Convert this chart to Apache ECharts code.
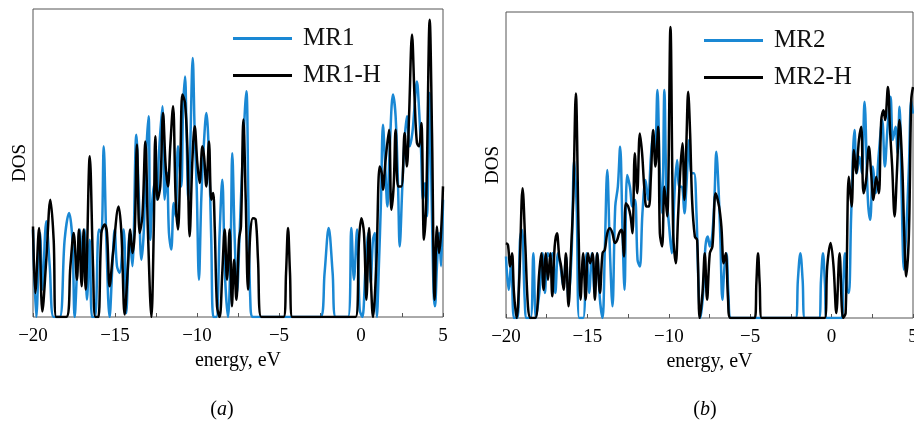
<!DOCTYPE html>
<html><head><meta charset="utf-8">
<script src="https://cdn.jsdelivr.net/npm/echarts@6/dist/echarts.min.js"></script>
<style>html,body{margin:0;padding:0;background:#fff}#c{width:914px;height:427px}</style>
</head><body><div id="c"></div>
<script>
// energy range / ticks (eV)
const energyMin = -20, energyMax = 5, energyStep = 5;
const dosMax = 10;
const seriesNamesA = ['MR1', 'MR1-H'];
const seriesNamesB = ['MR2', 'MR2-H'];
const panelLabels = ['a', 'b'];

// [energy (eV), DOS (arb.)]
const MR1 = [[-20.00,2.84],[-19.80,0],[-19.57,2.73],[-19.43,0.89],[-19.19,3.11],[-18.98,1.65],[-18.74,0],[-18.37,0],[-18.07,2.51],[-17.80,3.38],[-17.60,2.51],[-17.46,0],[-17.30,1.65],[-17.15,2.84],[-16.99,1.43],[-16.85,2.84],[-16.71,0.56],[-16.54,2.51],[-16.40,0],[-16.22,0],[-15.98,2.84],[-15.83,2.73],[-15.69,5.54],[-15.53,2.51],[-15.33,0],[-15.16,1.65],[-15.02,2.84],[-14.88,1.65],[-14.72,1.43],[-14.47,2.84],[-14.31,0.13],[-14.11,2.73],[-13.94,1.65],[-13.70,5.92],[-13.54,3.81],[-13.39,1.86],[-13.25,2.73],[-13.09,5.38],[-12.95,6.52],[-12.85,2.51],[-12.72,3.81],[-12.58,4.35],[-12.44,3.81],[-12.32,5.32],[-12.11,6.84],[-11.97,3.81],[-11.83,4.68],[-11.71,2.73],[-11.57,2.19],[-11.42,3.70],[-11.30,3.27],[-11.16,5.54],[-10.96,4.24],[-10.85,6.73],[-10.73,7.81],[-10.63,5.76],[-10.53,3.81],[-10.43,5.11],[-10.26,8.41],[-10.14,5.97],[-10.02,4.24],[-9.88,1.21],[-9.74,3.81],[-9.59,5.54],[-9.43,6.62],[-9.27,5.22],[-9.13,2.51],[-9.00,0],[-8.82,0],[-8.62,2.73],[-8.46,4.46],[-8.29,1.32],[-8.11,0],[-7.95,2.19],[-7.85,5.32],[-7.70,2.51],[-7.56,0.78],[-7.40,2.73],[-7.24,4.89],[-6.99,7.33],[-6.87,3.81],[-6.75,0.56],[-6.59,0],[-2.48,0],[-2.22,1.43],[-1.97,2.89],[-1.73,1.43],[-1.54,0],[-0.79,0],[-0.59,2.89],[-0.43,1.21],[-0.24,2.84],[-0.08,0.24],[0.08,0],[0.28,1.65],[0.45,2.73],[0.59,1.10],[0.73,2.51],[0.85,2.73],[0.97,0],[1.09,1.65],[1.22,3.81],[1.34,6.24],[1.46,5.11],[1.61,3.59],[1.75,5.43],[1.95,7.22],[2.11,6.52],[2.26,4.24],[2.36,2.29],[2.52,4.24],[2.66,5.76],[2.80,6.52],[2.97,5.54],[3.13,5.97],[3.25,6.73],[3.41,7.65],[3.54,6.73],[3.66,5.43],[3.78,3.81],[3.90,4.35],[4.02,3.27],[4.19,7.27],[4.31,3.81],[4.43,0.78],[4.51,0.35],[4.63,1.65],[4.76,2.73],[4.88,1.65],[5.00,3.81]];

const MR1H = [[-20.00,2.94],[-19.86,0.78],[-19.63,2.89],[-19.43,0.18],[-19.19,1.86],[-18.94,3.81],[-18.74,2.51],[-18.58,0],[-17.97,0],[-17.72,1.65],[-17.52,2.73],[-17.32,1.21],[-17.20,2.84],[-17.03,1.0],[-16.91,2.84],[-16.79,0.89],[-16.54,5.22],[-16.34,1.65],[-16.20,0],[-16.02,0],[-15.83,2.73],[-15.63,3.0],[-15.49,2.73],[-15.33,1.0],[-15.12,2.08],[-14.78,3.59],[-14.61,2.73],[-14.41,0.08],[-14.21,1.65],[-14.07,2.84],[-13.94,2.08],[-13.80,2.73],[-13.66,5.6],[-13.50,2.73],[-13.33,3.27],[-13.15,5.7],[-12.99,2.73],[-12.78,0],[-12.64,2.73],[-12.54,5.87],[-12.40,3.81],[-12.24,4.24],[-12.07,6.62],[-11.91,4.89],[-11.77,4.24],[-11.63,5.54],[-11.46,6.84],[-11.30,3.81],[-11.16,2.84],[-11.02,4.89],[-10.89,7.22],[-10.73,6.95],[-10.59,5.54],[-10.45,2.62],[-10.28,5.11],[-10.14,6.19],[-9.98,5.0],[-9.84,4.35],[-9.67,5.54],[-9.57,5.22],[-9.43,4.24],[-9.27,5.7],[-9.13,3.81],[-9.02,4.03],[-8.92,2.94],[-8.78,0.35],[-8.62,0],[-8.46,1.43],[-8.31,2.84],[-8.17,1.21],[-8.01,2.84],[-7.87,0.35],[-7.74,1.86],[-7.60,0.56],[-7.44,2.51],[-7.32,2.94],[-7.17,6.41],[-7.03,3.81],[-6.89,0.89],[-6.75,2.73],[-6.59,3.21],[-6.42,3.16],[-6.28,1.86],[-6.08,0],[-4.72,0],[-4.57,1.43],[-4.45,2.89],[-4.33,1.43],[-4.19,0],[-0.33,0],[-0.12,2.51],[0.02,3.21],[0.18,2.73],[0.33,0.56],[0.49,2.89],[0.61,1.10],[0.73,0],[0.93,1.65],[1.14,4.89],[1.26,4.68],[1.34,4.13],[1.50,5.11],[1.71,6.08],[1.85,3.48],[1.99,4.24],[2.11,6.08],[2.26,4.24],[2.46,4.24],[2.66,5.97],[2.80,4.89],[2.93,6.52],[3.11,9.17],[3.27,7.06],[3.41,5.65],[3.54,5.54],[3.68,6.30],[3.84,2.51],[3.98,3.81],[4.19,9.65],[4.33,5.97],[4.49,0.56],[4.63,2.94],[4.76,2.08],[4.88,2.73],[5.00,4.24]];

const MR2 = [[-20.00,2.01],[-19.84,0.92],[-19.67,1.90],[-19.51,0],[-19.30,0],[-19.14,2.55],[-19.02,2.88],[-18.85,0.60],[-18.73,0],[-18.49,0],[-18.32,2.12],[-18.16,0],[-17.91,1.03],[-17.75,2.12],[-17.61,0.82],[-17.44,2.12],[-17.30,2.01],[-17.14,2.12],[-16.97,0.82],[-16.81,2.12],[-16.65,1.68],[-16.48,1.03],[-16.32,2.01],[-16.16,0.60],[-15.97,2.12],[-15.81,5.16],[-15.66,3.64],[-15.50,0],[-15.26,0],[-15.05,2.12],[-14.89,0.82],[-14.72,2.12],[-14.56,0.82],[-14.40,2.12],[-14.23,0.60],[-14.07,0],[-13.93,2.23],[-13.78,4.84],[-13.62,2.23],[-13.46,0.38],[-13.29,3.64],[-13.13,4.29],[-12.99,5.60],[-12.84,2.77],[-12.72,0.92],[-12.56,4.67],[-12.39,4.29],[-12.23,3.64],[-12.07,3.86],[-11.92,1.90],[-11.78,1.68],[-11.62,3.42],[-11.43,4.51],[-11.27,3.86],[-11.10,5.27],[-10.96,6.03],[-10.84,5.38],[-10.70,7.45],[-10.55,4.73],[-10.41,3.42],[-10.27,7.45],[-10.14,4.08],[-9.98,2.99],[-9.82,2.12],[-9.63,4.29],[-9.49,5.16],[-9.35,4.29],[-9.20,4.29],[-9.04,3.42],[-8.92,4.29],[-8.75,5.82],[-8.61,4.73],[-8.45,4.73],[-8.30,3.42],[-8.18,1.14],[-8.06,0],[-7.89,0.82],[-7.75,2.34],[-7.61,2.66],[-7.48,2.34],[-7.34,2.66],[-7.20,3.86],[-7.08,5.43],[-6.95,4.29],[-6.83,2.55],[-6.71,0.60],[-6.58,1.68],[-6.46,2.12],[-6.34,0.82],[-6.18,0],[-2.21,0],[-2.07,1.25],[-1.92,2.12],[-1.78,1.25],[-1.64,0],[-0.78,0],[-0.65,1.25],[-0.53,2.12],[-0.41,1.14],[-0.29,0],[0.61,0],[0.72,1.14],[0.82,2.12],[0.94,0.92],[1.06,0.82],[1.20,3.32],[1.41,6.14],[1.55,4.73],[1.72,5.27],[1.86,4.73],[2.02,7.07],[2.23,3.86],[2.37,3.21],[2.54,4.95],[2.70,4.08],[2.90,5.38],[3.11,6.47],[3.27,4.95],[3.44,6.25],[3.62,7.23],[3.76,5.82],[3.93,6.25],[4.05,5.38],[4.17,6.90],[4.31,3.86],[4.44,1.58],[4.58,2.77],[4.75,4.95],[4.89,7.12],[5.00,6.68]];

const MR2H = [[-20.00,2.45],[-19.88,2.39],[-19.75,1.68],[-19.63,2.12],[-19.51,0.82],[-19.35,0],[-19.18,1.36],[-18.98,4.24],[-18.81,2.34],[-18.65,0.38],[-18.49,0],[-18.20,0],[-17.96,1.47],[-17.83,2.12],[-17.69,0.92],[-17.55,2.12],[-17.42,1.25],[-17.28,2.12],[-17.16,0.71],[-17.01,2.34],[-16.87,2.77],[-16.73,2.01],[-16.61,1.68],[-16.46,0.92],[-16.32,2.12],[-16.16,0.38],[-16.01,2.12],[-15.87,3.86],[-15.71,7.34],[-15.54,2.77],[-15.42,0.60],[-15.26,2.12],[-15.11,0.60],[-14.97,2.12],[-14.83,1.79],[-14.68,2.12],[-14.54,0.60],[-14.40,2.12],[-14.23,0.82],[-14.07,2.12],[-13.93,2.23],[-13.78,2.77],[-13.62,2.93],[-13.46,2.77],[-13.31,2.45],[-13.17,2.55],[-13.05,2.77],[-12.90,2.88],[-12.76,2.01],[-12.64,3.75],[-12.49,3.64],[-12.35,3.32],[-12.23,2.77],[-12.09,5.38],[-11.94,4.08],[-11.78,6.03],[-11.64,5.38],[-11.51,4.29],[-11.37,3.64],[-11.23,3.64],[-11.10,4.62],[-10.96,6.14],[-10.82,4.95],[-10.65,6.25],[-10.55,2.77],[-10.41,2.34],[-10.27,4.29],[-10.10,3.32],[-9.90,9.51],[-9.73,2.77],[-9.57,1.79],[-9.43,3.32],[-9.28,4.95],[-9.16,5.71],[-9.04,3.86],[-8.92,5.71],[-8.81,7.39],[-8.69,6.03],[-8.57,3.86],[-8.40,2.66],[-8.26,2.55],[-8.10,0],[-7.93,0.82],[-7.79,2.12],[-7.65,0.60],[-7.48,2.12],[-7.32,2.34],[-7.12,4.08],[-6.91,3.64],[-6.77,2.99],[-6.63,1.79],[-6.50,2.12],[-6.36,0.60],[-6.22,0],[-4.72,0],[-4.62,1.14],[-4.52,2.12],[-4.42,1.14],[-4.29,0],[-0.43,0],[-0.27,1.68],[-0.06,2.45],[0.12,1.68],[0.29,0.16],[0.49,2.12],[0.70,0],[0.86,0.16],[1.06,4.62],[1.23,3.64],[1.37,5.49],[1.51,4.73],[1.68,5.82],[1.82,6.25],[1.96,4.08],[2.12,4.51],[2.29,5.60],[2.43,4.73],[2.57,3.86],[2.74,4.62],[2.90,4.08],[3.05,6.47],[3.19,6.79],[3.29,6.47],[3.46,7.55],[3.60,6.03],[3.72,4.95],[3.87,3.32],[4.01,4.73],[4.17,6.47],[4.34,4.95],[4.46,2.77],[4.58,1.36],[4.75,2.77],[4.89,7.12],[5.00,7.55]];

const FONT = '"Liberation Serif","Times New Roman","DejaVu Serif",serif';
const BLUE = '#1a88d4';
const BLACK = '#000000';
const FRAME = '#555555';

function xAx(gi) {
  return {
    gridIndex: gi, type: 'value', min: energyMin, max: energyMax, interval: energyStep,
    axisLine: { show: false },
    axisTick: { show: true, inside: true, length: 4, lineStyle: { color: FRAME, width: 1 } },
    minorTick: { show: true, splitNumber: 2, length: 4, lineStyle: { color: FRAME, width: 1 } },
    splitLine: { show: false }, minorSplitLine: { show: false },
    axisLabel: { color: '#000', fontSize: 19, fontFamily: FONT, margin: 10,
      formatter: v => (v < 0 ? '\u2212' + Math.abs(v) : String(v)) },
    name: 'energy, eV', nameLocation: 'middle', nameGap: 28,
    nameTextStyle: { color: '#000', fontSize: 20, fontFamily: FONT }
  };
}
function yAx(gi) {
  return {
    gridIndex: gi, type: 'value', min: 0, max: dosMax,
    axisLine: { show: false }, axisTick: { show: false }, axisLabel: { show: false },
    splitLine: { show: false },
    name: 'DOS', nameLocation: 'middle', nameRotate: 90, nameGap: 3,
    nameTextStyle: { color: '#000', fontSize: 19, fontFamily: FONT }
  };
}
function legendFor(names, left, top) {
  return {
    data: names, orient: 'vertical', left: left, top: top, icon: 'rect',
    itemWidth: 59, itemHeight: 3, itemGap: 12, selectedMode: false,
    textStyle: { color: '#111', fontSize: 25, fontFamily: FONT, padding: [0, 0, 0, 6] }
  };
}
function line(name, data, gi, color) {
  return {
    name: name, type: 'line', data: data, xAxisIndex: gi, yAxisIndex: gi,
    symbol: 'none', smooth: 0.35, lineStyle: { color: color, width: 2.5 },
    itemStyle: { color: color }, clip: true
  };
}
function panelLabel(ch, x, y) {
  return {
    type: 'text', x: x, y: y,
    style: {
      text: '{p|(}{i|' + ch + '}{p|)}', align: 'center', verticalAlign: 'middle',
      rich: {
        p: { fontSize: 20, fontFamily: FONT, fill: '#000' },
        i: { fontSize: 20, fontFamily: FONT, fontStyle: 'italic', fill: '#000' }
      }
    }
  };
}

const chart = echarts.init(document.getElementById('c'), null, { renderer: 'canvas' });
chart.setOption({
  animation: false,
  backgroundColor: '#fff',
  grid: [
    { left: 33, top: 9, width: 410, height: 308, show: true, borderColor: FRAME, borderWidth: 1, outerBoundsMode: 'none', containLabel: false },
    { left: 506, top: 12, width: 407, height: 306, show: true, borderColor: FRAME, borderWidth: 1, outerBoundsMode: 'none', containLabel: false }
  ],
  xAxis: [xAx(0), xAx(1)],
  yAxis: [yAx(0), yAx(1)],
  legend: [legendFor(seriesNamesA, 228, 21), legendFor(seriesNamesB, 699, 23)],
  series: [
    line(seriesNamesA[0], MR1, 0, BLUE),
    line(seriesNamesA[1], MR1H, 0, BLACK),
    line(seriesNamesB[0], MR2, 1, BLUE),
    line(seriesNamesB[1], MR2H, 1, BLACK)
  ],
  graphic: [panelLabel(panelLabels[0], 222, 410), panelLabel(panelLabels[1], 705, 410)]
});
</script>
</body></html>
